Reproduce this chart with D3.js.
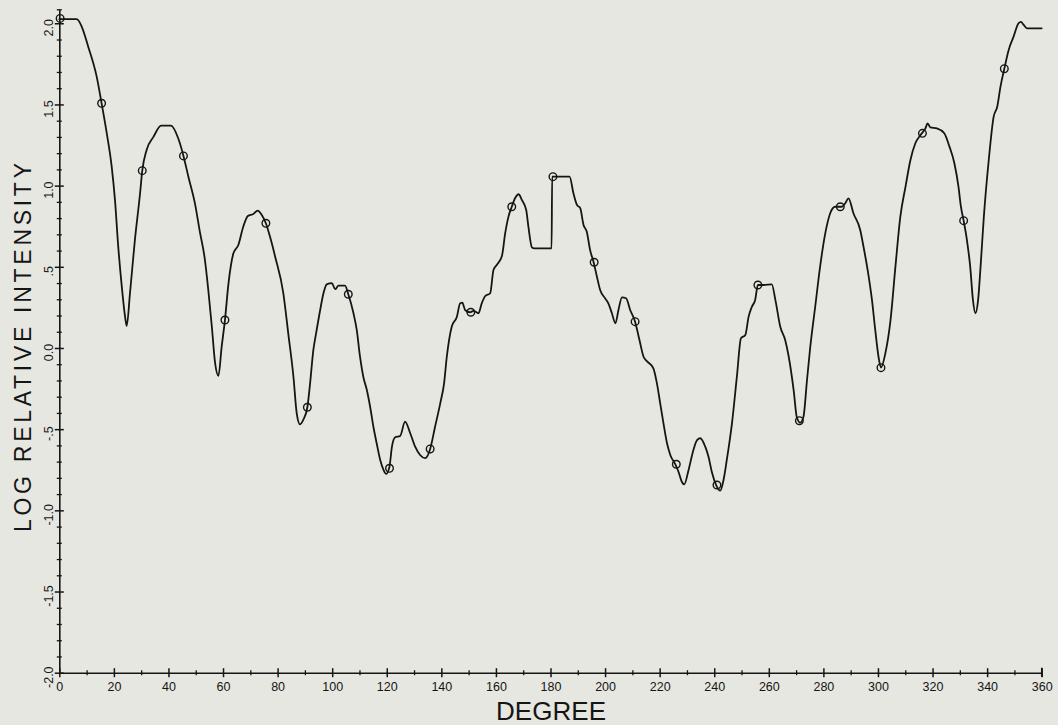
<!DOCTYPE html>
<html>
<head>
<meta charset="utf-8">
<script src="https://cdn.jsdelivr.net/npm/d3@7"></script>
<style>
  html, body { margin: 0; padding: 0; background: #e7e7e1; }
  svg { display: block; }
</style>
</head>
<body>
<svg id="chart" width="1058" height="725"></svg>
<script>
// ---- data ----
const curveDegrees = [
  0, 6.4, 8.2, 10.6, 13.7, 15.5, 17.4, 19.2, 20.4, 21.6, 22.9, 24.1, 24.7, 25.9, 27.7, 29.6, 30.4, 32.0, 34.5, 37.3,
  40.9, 43.6, 45.5, 47.3, 49.7, 51.6, 53.2, 54.6, 55.9, 57.1, 58.3, 59.5, 60.7, 62.0, 63.8, 65.6, 67.4, 69.1, 71.1, 72.7,
  74.2, 75.7, 77.2, 79.1, 82.1, 83.9, 85.8, 87.0, 88.2, 89.4, 90.9, 91.9, 93.1, 94.1, 95.6, 96.8, 98.0, 99.9, 101.1, 102.3,
  104.7, 105.9, 107.8, 109.0, 110.2, 111.4, 112.7, 113.9, 115.1, 116.3, 117.6, 118.8, 119.8, 121.0, 121.9, 123.1, 124.9, 126.7, 128.6, 130.4,
  132.2, 134.1, 135.9, 137.7, 139.6, 141.0, 142.0, 143.8, 145.7, 146.9, 147.7, 148.7, 150.5, 151.8, 153.6, 154.8, 156.1, 157.9, 159.1, 160.3,
  162.2, 163.4, 164.6, 165.8, 167.0, 168.3, 169.5, 171.1, 171.9, 173.2, 174.0, 180.4, 180.6, 187.0, 188.4, 189.7, 190.9, 192.1, 193.3, 194.5,
  195.8, 197.0, 198.2, 200.0, 201.2, 202.5, 203.8, 204.9, 206.2, 207.7, 209.2, 211.0, 212.6, 214.1, 215.5, 217.7, 219.0, 220.2, 221.4, 222.7,
  223.9, 225.7, 226.9, 228.1, 229.0, 230.6, 232.2, 233.7, 234.9, 236.7, 237.9, 239.1, 240.7, 242.2, 243.4, 244.6, 246.5, 248.3, 249.8, 251.4,
  252.6, 253.8, 255.0, 256.0, 258.1, 261.1, 262.4, 264.2, 266.0, 267.3, 269.1, 270.3, 271.5, 272.7, 274.0, 275.2, 277.0, 278.8, 280.7, 282.5,
  284.3, 286.8, 288.0, 289.2, 291.0, 293.5, 294.7, 296.6, 297.8, 299.0, 300.2, 301.1, 302.7, 304.6, 306.4, 308.2, 310.1, 311.9, 313.7, 315.6,
  317.4, 318.2, 319.2, 321.6, 324.3, 326.2, 328.0, 329.5, 330.4, 331.4, 332.6, 333.8, 334.8, 335.7, 336.7, 337.6, 338.8, 340.6, 342.4, 343.7,
  344.9, 346.3, 347.9, 349.7, 351.5, 352.4, 353.4, 354.6, 360.0
];
const curveLogIntensity = [
  2.025, 2.025, 1.98, 1.856, 1.671, 1.507, 1.322, 1.117, 0.912, 0.624, 0.378, 0.193, 0.136, 0.337, 0.665, 0.953, 1.092, 1.22, 1.30, 1.369,
  1.369, 1.29, 1.183, 1.055, 0.891, 0.707, 0.562, 0.357, 0.131, -0.094, -0.172, 0.008, 0.172, 0.398, 0.583, 0.634, 0.747, 0.813, 0.825, 0.846,
  0.819, 0.768, 0.686, 0.562, 0.337, 0.09, -0.177, -0.402, -0.47, -0.443, -0.365, -0.218, -0.012, 0.09, 0.234, 0.337, 0.392, 0.399, 0.362, 0.384,
  0.384, 0.331, 0.214, 0.111, -0.054, -0.177, -0.259, -0.362, -0.485, -0.587, -0.69, -0.751, -0.776, -0.731, -0.608, -0.55, -0.542, -0.454, -0.525, -0.608,
  -0.659, -0.679, -0.622, -0.485, -0.341, -0.218, -0.054, 0.131, 0.193, 0.275, 0.279, 0.234, 0.22, 0.228, 0.214, 0.275, 0.32, 0.337, 0.48, 0.511,
  0.567, 0.707, 0.809, 0.870, 0.922, 0.947, 0.912, 0.85, 0.747, 0.62, 0.614, 0.614, 1.055, 1.055, 0.953, 0.881, 0.861, 0.758, 0.716, 0.604,
  0.528, 0.44, 0.357, 0.306, 0.275, 0.214, 0.152, 0.234, 0.312, 0.306, 0.234, 0.162, 0.049, -0.054, -0.084, -0.125, -0.218, -0.341, -0.464, -0.587,
  -0.659, -0.716, -0.762, -0.824, -0.84, -0.751, -0.639, -0.567, -0.556, -0.608, -0.67, -0.762, -0.844, -0.879, -0.813, -0.69, -0.464, -0.177, 0.06, 0.08,
  0.193, 0.254, 0.296, 0.388, 0.388, 0.392, 0.296, 0.131, 0.049, -0.054, -0.259, -0.43, -0.46, -0.423, -0.197, 0.008, 0.254, 0.501, 0.707, 0.83,
  0.870, 0.870, 0.891, 0.922, 0.83, 0.727, 0.624, 0.44, 0.296, 0.111, -0.054, -0.121, -0.033, 0.172, 0.501, 0.809, 0.994, 1.158, 1.261, 1.312,
  1.353, 1.384, 1.359, 1.353, 1.322, 1.24, 1.138, 0.994, 0.870, 0.784, 0.665, 0.501, 0.296, 0.214, 0.296, 0.501, 0.809, 1.158, 1.425, 1.486,
  1.61, 1.72, 1.836, 1.918, 2.0, 2.008, 1.99, 1.969, 1.969
];
const markerDegrees = [0.3, 15.5, 30.4, 45.5, 60.7, 75.7, 90.9, 105.9, 121.0, 135.9, 150.8, 165.8, 180.9, 196.0, 211.0, 226.1, 241.0, 256.0, 271.2, 286.2, 301.1, 316.3, 331.4, 346.3];
const markerLogIntensity = [2.03, 1.507, 1.092, 1.183, 0.172, 0.768, -0.365, 0.331, -0.741, -0.622, 0.22, 0.870, 1.055, 0.528, 0.162, -0.716, -0.844, 0.388, -0.448, 0.870, -0.121, 1.322, 0.784, 1.72];

const xMajorTicks = d3.range(0, 361, 20);
const xMinorTicks = d3.range(10, 360, 20);
const xTickLabels = xMajorTicks.map(String);
const yMajorTicks = [-2, -1.5, -1, -0.5, 0, 0.5, 1, 1.5, 2];
const yMinorTicks = d3.range(-19, 21).map(v => v / 10).filter(v => Math.abs(v * 2 - Math.round(v * 2)) > 1e-6);
const yTickLabels = ["-2.0", "-1.5", "-1.0", "-.5", "0.0", ".5", "1.0", "1.5", "2.0"];
const xTitle = "DEGREE";
const yTitle = "LOG RELATIVE INTENSITY";

// ---- layout ----
const svg = d3.select("#chart");
const W = 1058, H = 725;
svg.append("rect").attr("width", W).attr("height", H).attr("fill", "#e7e7e1");

const x = d3.scaleLinear().domain([0, 360]).range([59.3, 1041.7]);
const y = d3.scaleLinear().domain([-2, 2.086]).range([672.7, 9.3]);
const ink = "#151515";
const tickFont = "'Liberation Sans', Arial, sans-serif";

// x axis (major)
const gx = svg.append("g").attr("transform", `translate(0,${y(-2)})`)
  .call(d3.axisBottom(x).tickValues(xMajorTicks).tickSize(4).tickSizeOuter(0)
    .tickFormat((d, i) => xTickLabels[i]));
gx.select(".domain").attr("stroke", ink).attr("stroke-width", 1.6);
gx.selectAll(".tick line").attr("y1", -4.5).attr("y2", 4.5).attr("stroke", ink).attr("stroke-width", 1.5);
gx.selectAll(".tick text").attr("y", 0).attr("dy", 0).attr("transform", "translate(0,18)")
  .attr("font-family", tickFont).attr("font-size", 12.5).attr("fill", ink);
// x axis (minor)
const gxm = svg.append("g").attr("transform", `translate(0,${y(-2)})`)
  .call(d3.axisBottom(x).tickValues(xMinorTicks).tickSize(2.5).tickFormat(""));
gxm.select(".domain").remove();
gxm.selectAll(".tick line").attr("y1", -2.5).attr("y2", 2.5).attr("stroke", ink).attr("stroke-width", 1.3);

// y axis (major)
const gy = svg.append("g").attr("transform", `translate(${x(0)},0)`)
  .call(d3.axisLeft(y).tickValues(yMajorTicks).tickSize(4.5).tickSizeOuter(0)
    .tickFormat((d, i) => yTickLabels[i]));
gy.select(".domain").attr("stroke", ink).attr("stroke-width", 1.6);
gy.selectAll(".tick line").attr("x1", -4.5).attr("x2", 4.5).attr("stroke", ink).attr("stroke-width", 1.5);
gy.selectAll(".tick text").attr("x", null).attr("dy", null)
  .attr("text-anchor", "middle")
  .attr("transform", "translate(-6.5,4) rotate(-90)")
  .attr("font-family", tickFont).attr("font-size", 12.5).attr("fill", ink);
// y axis (minor)
const gym = svg.append("g").attr("transform", `translate(${x(0)},0)`)
  .call(d3.axisLeft(y).tickValues(yMinorTicks.concat([2.086])).tickSize(2.5).tickFormat(""));
gym.select(".domain").remove();
gym.selectAll(".tick line").attr("x1", -2.5).attr("x2", 2.5).attr("stroke", ink).attr("stroke-width", 1.3);
// x axis end cap
svg.append("line").attr("x1", x(360)).attr("x2", x(360)).attr("y1", y(-2) - 5).attr("y2", y(-2) + 4)
  .attr("stroke", ink).attr("stroke-width", 1.5);

// titles
svg.append("text").text(xTitle)
  .attr("x", 551).attr("y", 720).attr("text-anchor", "middle")
  .attr("textLength", 110).attr("lengthAdjust", "spacing")
  .attr("font-family", tickFont).attr("font-size", 26).attr("fill", ink);
svg.append("text").text(yTitle)
  .attr("text-anchor", "middle")
  .attr("transform", "translate(30.5,347.5) rotate(-90)")
  .attr("textLength", 369).attr("lengthAdjust", "spacing")
  .attr("font-family", tickFont).attr("font-size", 23).attr("fill", ink);

// curve
const pts = curveDegrees.map((d, i) => [d, curveLogIntensity[i]]);
const line = d3.line().x(d => x(d[0])).y(d => y(d[1])).curve(d3.curveMonotoneX);
svg.append("path").datum(pts).attr("d", line)
  .attr("fill", "none").attr("stroke", ink).attr("stroke-width", 1.8)
  .attr("stroke-linejoin", "round").attr("stroke-linecap", "round");

// markers
const markers = markerDegrees.map((d, i) => [d, markerLogIntensity[i]]);
svg.append("g").selectAll("circle").data(markers).join("circle")
  .attr("cx", d => x(d[0])).attr("cy", d => y(d[1])).attr("r", 3.8)
  .attr("fill", "none").attr("stroke", ink).attr("stroke-width", 1.4);
</script>
</body>
</html>
